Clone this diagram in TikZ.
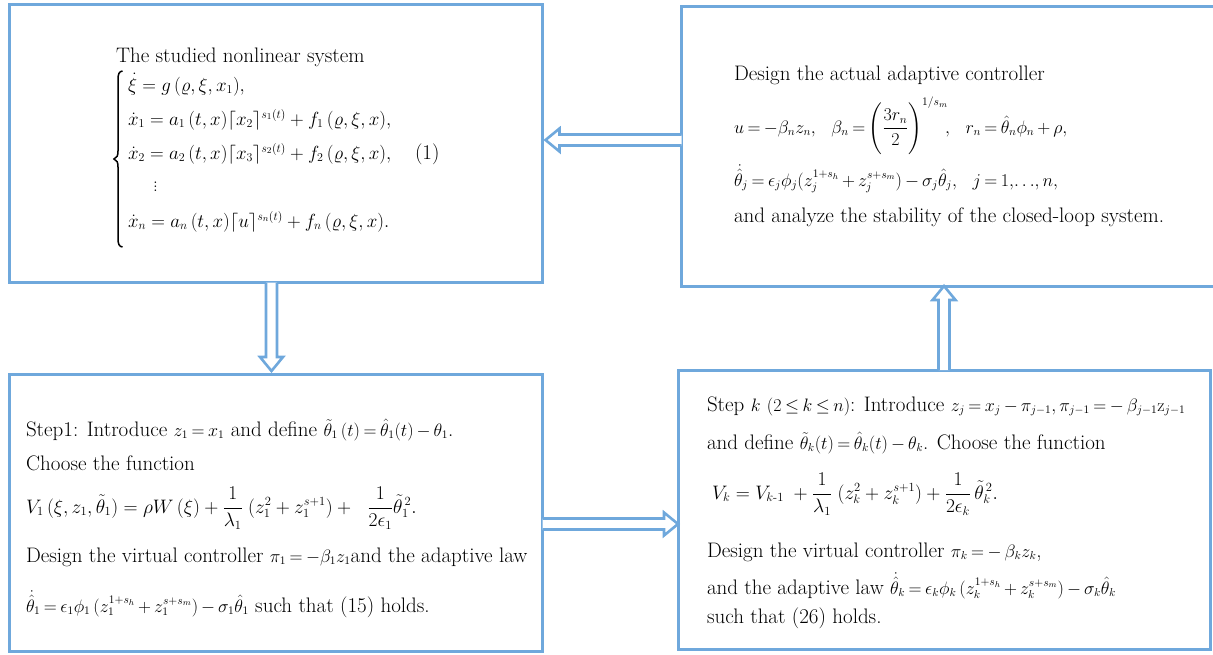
\RequirePackage{fix-cm}
\documentclass[tikz,border=0pt]{standalone}
\usepackage{amsmath}
\usetikzlibrary{calc}
\DeclareMathSizes{21}{18}{11.5}{8.5}
\DeclareMathSizes{20}{19.5}{12.5}{9}
\DeclareMathSizes{19}{19}{12}{9}
\definecolor{boxblue}{RGB}{111,168,220}
\newcommand{\tightmu}{\thickmuskip=3.5mu plus 2mu\relax\medmuskip=3mu plus 1mu\relax}
\tikzset{
  panel/.style={draw=boxblue, line width=3pt, rectangle, inner sep=0pt, outer sep=0pt, anchor=north west},
  txt/.style={anchor=base west, inner sep=0pt, outer sep=0pt, text=black,
    font=\fontsize{21}{25}\selectfont\tightmu},
  eqline/.style={anchor=base west, inner sep=0pt, outer sep=0pt, text=black,
    font=\fontsize{20}{24}\selectfont},
  eqsys/.style={anchor=base west, inner sep=0pt, outer sep=0pt, text=black,
    font=\fontsize{19}{23}\selectfont},
  hollow/.style={draw=boxblue, line width=2.6pt, fill=white, line join=miter}
}
\begin{document}
\begin{tikzpicture}[x=1pt,y=-1pt]
\useasboundingbox (0,0) rectangle (1213,654);
% panels
\node[panel, minimum width=533pt, minimum height=278pt] (b1) at (9.5,4.5) {};
\node[panel, minimum width=545pt, minimum height=280pt] (b2) at (681.5,6) {};
\node[panel, minimum width=533pt, minimum height=277pt] (b3) at (9.5,374) {};
\node[panel, minimum width=532pt, minimum height=279pt] (b4) at (678,370) {};

% arrows
% b2 -> b1 (left)
\coordinate (s1) at ($(b2.north west)+(0,134)$);
\coordinate (t1) at ($(b1.north east)+(3,135.5)$);
\draw[hollow] ($(s1)+(0,-5.5)$) -- ($(t1)+(14,-5.5)$) -- ($(t1)+(14,-11.5)$) -- (t1)
  -- ($(t1)+(14,11.5)$) -- ($(t1)+(14,5.5)$) -- ($(s1)+(0,5.5)$);
% b1 -> b3 (down)
\coordinate (s2) at ($(b1.south west)+(262,0)$);
\coordinate (t2) at ($(b3.north west)+(262,-3)$);
\draw[hollow] ($(s2)+(-5.5,0)$) -- ($(t2)+(-5.5,-14)$) -- ($(t2)+(-11.5,-14)$) -- (t2)
  -- ($(t2)+(11.5,-14)$) -- ($(t2)+(5.5,-14)$) -- ($(s2)+(5.5,0)$);
% b3 -> b4 (right)
\coordinate (s3) at ($(b3.north east)+(0,150)$);
\coordinate (t3) at ($(b4.north west)+(0,154)$);
\draw[hollow] ($(s3)+(0,-5.5)$) -- ($(t3)+(-14,-5.5)$) -- ($(t3)+(-14,-11.5)$) -- (t3)
  -- ($(t3)+(-14,11.5)$) -- ($(t3)+(-14,5.5)$) -- ($(s3)+(0,5.5)$);
% b4 -> b2 (up)
\coordinate (s4) at ($(b4.north west)+(266,0)$);
\coordinate (t4) at ($(b2.south west)+(262.5,0)$);
\draw[hollow] ($(s4)+(-5.5,0)$) -- ($(t4)+(-5.5,14)$) -- ($(t4)+(-11.5,14)$) -- (t4)
  -- ($(t4)+(11.5,14)$) -- ($(t4)+(5.5,14)$) -- ($(s4)+(5.5,0)$);

% box 1 text
\node[txt] (t1a) at (116,62) {The studied nonlinear system};
\draw[line width=1.5pt] (122.5,71) .. controls (119,71.5) and (118,74) .. (118,80) -- (118,151)
  .. controls (118,155.5) and (117,158) .. (114,159) .. controls (117,160) and (118,162.5) .. (118,167)
  -- (118,238) .. controls (118,244) and (119,246.5) .. (122.5,247);
\node[eqsys] (e0) at (128,91) {$\dot\xi = g\,(\varrho,\xi,x_1),$};
\node[eqsys] (e1) at (128,125) {$\dot x_1 = a_1\,(t,x)\lceil x_2\rceil^{s_1(t)} + f_1\,(\varrho,\xi,x),$};
\node[eqsys] (e2) at (128,159) {$\dot x_2 = a_2\,(t,x)\lceil x_3\rceil^{s_2(t)} + f_2\,(\varrho,\xi,x),$};
\node[eqsys] (e3) at (153,191) {$\vdots$};
\node[eqsys] (e4) at (128,227) {$\dot x_n = a_n\,(t,x)\lceil u\rceil^{s_n(t)} + f_n\,(\varrho,\xi,x).$};
\node[txt] (eqn) at (415,159) {(1)};

% box 2 text
\node[txt] (t2a) at (734,80) {Design the actual adaptive controller};
\node[txt] (t2b) at (734,133) {$u = -\beta_n z_n,\ \ \beta_n = \Biggl(\dfrac{3r_n}{2}\Biggr)^{1/s_m}\!,\ \ r_n = \hat\theta_n\phi_n + \rho,$};
\node[txt] (t2c) at (734,186) {$\dot{\hat\theta}_j = \epsilon_j\phi_j(z_j^{1+s_h} + z_j^{s+s_m}) - \sigma_j\hat\theta_j,\ \ j = 1,\!\ldots\!,n,$};
\node[txt] (t2d) at (734,222) {and analyze the stability of the closed-loop system.};

% box 3 text
\node[txt] (t3a) at (26,436) {Step1: Introduce $z_1 = x_1$ and define $\tilde\theta_1\,(t) = \hat\theta_1(t) - \theta_1$.};
\node[txt] (t3b) at (26,470) {Choose the function};
\node[eqline] (t3c) at (26,513) {$V_1\,(\xi,z_1,\tilde\theta_1) = \rho W\,(\xi) + \dfrac{1}{\lambda_1}\;(z_1^2 + z_1^{s+1})+\ \ \dfrac{1}{2\epsilon_1}\tilde\theta_1^{\,2}.$};
\node[txt] (t3d) at (26,562) {Design the virtual controller $\pi_1 = -\beta_1 z_1$and the adaptive law};
\node[txt] (t3e) at (26,612) {$\dot{\hat\theta}_1 = \epsilon_1\phi_1\,(z_1^{1+s_h} + z_1^{s+s_m})-\sigma_1\hat\theta_1$ such that (15) holds.};

% box 4 text
\node[txt] (t4a) at (707,411) {Step $k$ $(2 \le k \le n)$: Introduce $z_j = x_j - \pi_{j-1}, \pi_{j-1} = -\,\beta_{j-1}\mathrm{z}_{j-1}$};
\node[txt] (t4b) at (707,449) {and define $\tilde\theta_k(t) = \hat\theta_k(t) - \theta_k$. Choose the function};
\node[eqline] (t4c) at (712,499) {$V_k = V_{k\text{-}1} \;+ \dfrac{1}{\lambda_1}\;(z_k^2 + z_k^{s+1}) + \dfrac{1}{2\epsilon_k}\,\tilde\theta_k^{\,2}.$};
\node[txt] (t4d) at (707,557) {Design the virtual controller $\pi_k = -\,\beta_k z_k$,};
\node[txt] (t4e) at (707,594) {and the adaptive law $\dot{\hat\theta}_k = \epsilon_k\phi_k\,(z_k^{1+s_h} + z_k^{s+s_m}) - \sigma_k\hat\theta_k$};
\node[txt] (t4f) at (707,623) {such that (26) holds.};
\end{tikzpicture}
\end{document}
